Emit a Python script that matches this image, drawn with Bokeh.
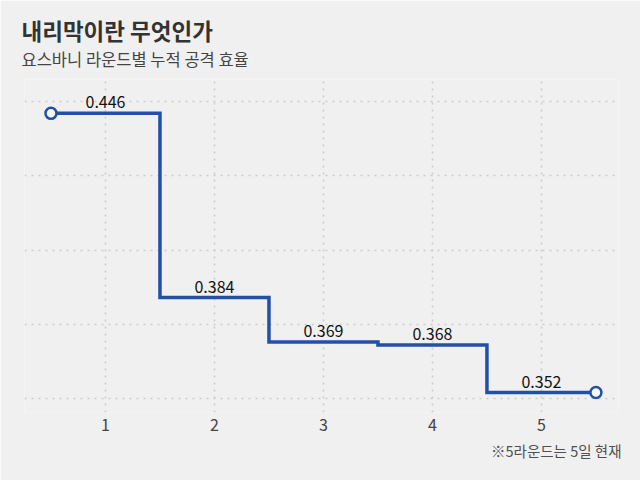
from bokeh.plotting import figure
from bokeh.models import FixedTicker, Title, ColumnDataSource, Range1d
from bokeh.core.properties import value
from bokeh.embed import file_html
from bokeh.resources import INLINE

# ---- data ----
title_text = "내리막이란 무엇인가"
subtitle_text = "요스바니 라운드별 누적 공격 효율"
note_text = "※5라운드는 5일 현재"
rounds = [1, 2, 3, 4, 5]
efficiency = [0.446, 0.384, 0.369, 0.368, 0.352]
value_labels = ["0.446", "0.384", "0.369", "0.368", "0.352"]
y_grid_ticks = [0.35, 0.375, 0.40, 0.425, 0.45]

FONT = "Noto Sans CJK KR"
BG = "#f0f0f0"
BLUE = "#2150a5"

p = figure(width=640, height=480, output_backend="svg", toolbar_location=None,
           x_range=Range1d(0.257, 5.707), y_range=Range1d(0.3453, 0.4574),
           min_border_left=24, min_border_right=22, min_border_top=79,
           min_border_bottom=68, background_fill_color=BG, border_fill_color=BG,
           outline_line_color=None, title=None)

p.yaxis.visible = False
p.xaxis.ticker = FixedTicker(ticks=rounds)
p.xaxis.axis_line_color = None
p.xaxis.major_tick_line_color = None
p.xaxis.minor_tick_line_color = None
p.xaxis.major_label_text_font = FONT
p.xaxis.major_label_text_font_size = "16px"
p.xaxis.major_label_text_color = "#444444"
p.xaxis.major_label_standoff = 0

p.xgrid.ticker = FixedTicker(ticks=rounds)
p.ygrid.ticker = FixedTicker(ticks=y_grid_ticks)
for g in (p.xgrid, p.ygrid):
    g.grid_line_color = "#cccccc"
    g.grid_line_width = 1.6
    g.grid_line_dash = "2 5"

# step line built from the data
xs, ys = [], []
for r, v in zip(rounds, efficiency):
    xs += [r - 0.5, r + 0.5]
    ys += [v, v]
p.line(xs, ys, line_color=BLUE, line_width=3.5, line_join="miter")

ends = ColumnDataSource(dict(x=[rounds[0] - 0.5, rounds[-1] + 0.5],
                             y=[efficiency[0], efficiency[-1]]))
p.scatter("x", "y", source=ends, size=11, marker="circle",
          fill_color="#f7f7f7", line_color=BLUE, line_width=2.5)

lab = ColumnDataSource(dict(x=rounds, y=efficiency, t=value_labels))
p.text("x", "y", text="t", source=lab, text_align="center",
       text_baseline="bottom", y_offset=-5, text_font=value(FONT),
       text_font_size="16px", text_color="#111111")

# titles: subtitle added first (closest to frame), then main title
p.add_layout(Title(text=subtitle_text, text_font=FONT, text_font_size="16.5px",
                   text_font_style="normal", text_color="#444444",
                   align="left", offset=-3, standoff=18), "above")
p.add_layout(Title(text=title_text, text_font=FONT, text_font_size="22.5px",
                   text_font_style="bold", text_color="#333333",
                   align="left", offset=-3, standoff=-20), "above")
p.add_layout(Title(text=note_text, text_font=FONT, text_font_size="14.5px",
                   text_font_style="normal", text_color="#505050",
                   align="right", offset=-3, standoff=8), "below")

open("out.html", "w").write(file_html(p, INLINE))
